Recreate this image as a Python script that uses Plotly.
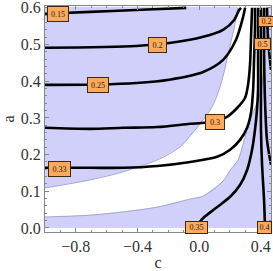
import plotly.graph_objects as go

# ---- contour lines (c, a) ----
c_015 = [-1.0, -0.706, -0.408, -0.25, -0.084]
a_015 = [0.584, 0.589, 0.594, 0.597, 0.600]

c_020 = [-1.0, -0.408, -0.194, 0.026, 0.155, 0.227, 0.259, 0.272]
a_020 = [0.491, 0.496, 0.504, 0.521, 0.540, 0.567, 0.594, 0.600]

c_025 = [-1.0, -0.654, -0.408, -0.194, 0.026, 0.155, 0.239, 0.285, 0.298]
a_025 = [0.390, 0.391, 0.395, 0.404, 0.425, 0.458, 0.513, 0.575, 0.600]

c_030 = [-1.0, -0.706, -0.492, -0.272, -0.058, 0.104, 0.181, 0.246, 0.298, 0.317, 0.330, 0.337, 0.343]
a_030 = [0.273, 0.270, 0.273, 0.275, 0.284, 0.290, 0.303, 0.327, 0.355, 0.390, 0.445, 0.526, 0.600]

c_033 = [-1.0, -0.706, -0.492, -0.272, -0.058, 0.117, 0.201, 0.265, 0.311, 0.337, 0.350, 0.356, 0.362, 0.362]
a_033 = [0.164, 0.164, 0.164, 0.169, 0.180, 0.194, 0.213, 0.240, 0.273, 0.316, 0.376, 0.458, 0.540, 0.600]

c_035 = [-0.026, 0.026, 0.117, 0.201, 0.265, 0.311, 0.343, 0.362, 0.375, 0.382, 0.382, 0.382, 0.382]
a_035 = [0.0, 0.027, 0.057, 0.085, 0.117, 0.158, 0.213, 0.267, 0.322, 0.376, 0.458, 0.540, 0.600]

c_040 = [0.427, 0.421, 0.408, 0.401, 0.401, 0.401, 0.401]
a_040 = [0.0, 0.076, 0.172, 0.267, 0.376, 0.485, 0.600]

c_050 = [0.421, 0.421, 0.427, 0.440, 0.466]
a_050 = [0.600, 0.485, 0.349, 0.240, 0.172]

c_right = [0.440, 0.447, 0.466]
a_right = [0.600, 0.513, 0.431]

contour_c = [c_015, c_020, c_025, c_030, c_033, c_035, c_040, c_050, c_right]
contour_a = [a_015, a_020, a_025, a_030, a_033, a_035, a_040, a_050, a_right]

# ---- contour labels ----
label_text = ["0.15", "0.2", "0.25", "0.3", "0.33", "0.35", "0.4", "0.5", "0.2"]
label_c = [-0.913, -0.269, -0.654, 0.104, -0.909, -0.019, 0.424, 0.408, 0.440]
label_a = [0.582, 0.499, 0.391, 0.290, 0.161, 0.0, 0.0, 0.502, 0.562]

# ---- shaded regions: boundary curves ----
upper_bound_c = [0.252, 0.227, 0.194, 0.162, 0.129, 0.084, 0.026, -0.058, -0.123, -0.272, -0.401, -0.492, -0.706, -1.0]
upper_bound_a = [0.600, 0.545, 0.485, 0.425, 0.376, 0.330, 0.295, 0.251, 0.221, 0.185, 0.166, 0.153, 0.131, 0.109]

lower_bound_c = [0.434, 0.427, 0.421, 0.408, 0.382, 0.343, 0.311, 0.285, 0.252, 0.201, 0.155, 0.026, -0.058, -0.272, -0.492, -0.706, -1.0]
lower_bound_a = [0.600, 0.523, 0.458, 0.390, 0.349, 0.308, 0.267, 0.229, 0.185, 0.158, 0.128, 0.087, 0.079, 0.057, 0.044, 0.035, 0.030]

c_min, c_max = -1.0, 0.466
a_min, a_max = 0.0, 0.603

# ---- styles ----
fill_col = "rgb(208,208,250)"
edge_col = "rgb(150,150,190)"
box_w = [22, 19, 22, 20, 23, 23, 15, 17, 17]
box_h = [16, 16, 16, 16, 16, 13, 13, 12, 11]

fig = go.Figure()

# upper region polygon
fig.add_trace(go.Scatter(
    x=[c_min, upper_bound_c[0]] + upper_bound_c + [c_min],
    y=[a_max, a_max] + upper_bound_a + [a_max],
    fill="toself", fillcolor=fill_col, mode="none", hoverinfo="skip"))
# lower region polygon
fig.add_trace(go.Scatter(
    x=[c_min, c_max, c_max] + lower_bound_c + [c_min],
    y=[a_min, a_min, a_max] + [a_max] + lower_bound_a[1:] + [a_min],
    fill="toself", fillcolor=fill_col, mode="none", hoverinfo="skip"))
# region edges
for bx, by in [(upper_bound_c, upper_bound_a), (lower_bound_c, lower_bound_a)]:
    fig.add_trace(go.Scatter(x=bx, y=by, mode="lines",
                             line=dict(color=edge_col, width=0.8, shape="spline"),
                             hoverinfo="skip"))

for cx, ay in zip(contour_c, contour_a):
    fig.add_trace(go.Scatter(x=cx, y=ay, mode="lines",
                             line=dict(color="black", width=2.6, shape="spline", smoothing=0.8),
                             hoverinfo="skip"))

for i, t in enumerate(label_text):
    fig.add_annotation(x=label_c[i], y=label_a[i], xref="x", yref="y", text=t,
                       showarrow=False, bgcolor="rgb(255,170,90)",
                       bordercolor="rgb(60,40,20)", borderwidth=1, borderpad=0,
                       width=box_w[i] - 2, height=box_h[i] - 2,
                       font=dict(family="Liberation Serif", size=8, color="#222"))

axis_common = dict(showline=True, linecolor="#888", linewidth=1, mirror="ticks",
                   ticks="inside", tickcolor="#888", ticklen=4, showgrid=False,
                   zeroline=False, tickfont=dict(family="Liberation Serif", size=16, color="#333"),
                   tickformat=".1f", automargin=False, ticklabeloverflow="allow")

fig.update_xaxes(range=[c_min, c_max], dtick=0.4, tick0=0.0,
                 minor=dict(dtick=0.1, ticks="inside", ticklen=2, tickcolor="#888"),
                 title=dict(text="c", font=dict(family="Liberation Serif", size=16, color="#333"), standoff=4),
                 **axis_common)
fig.update_yaxes(range=[-0.011, 0.605], dtick=0.1, tick0=0.0,
                 minor=dict(dtick=0.02, ticks="inside", ticklen=2, tickcolor="#888"),
                 title=dict(text="a", font=dict(family="Liberation Serif", size=16, color="#333"), standoff=11),
                 **axis_common)

fig.update_layout(width=273, height=271, margin=dict(l=45, r=2, t=6, b=39),
                  plot_bgcolor="white", paper_bgcolor="white", showlegend=False)

fig.write_html("out.html", config={"displayModeBar": False},
               post_script="document.body.style.margin='0px';")
